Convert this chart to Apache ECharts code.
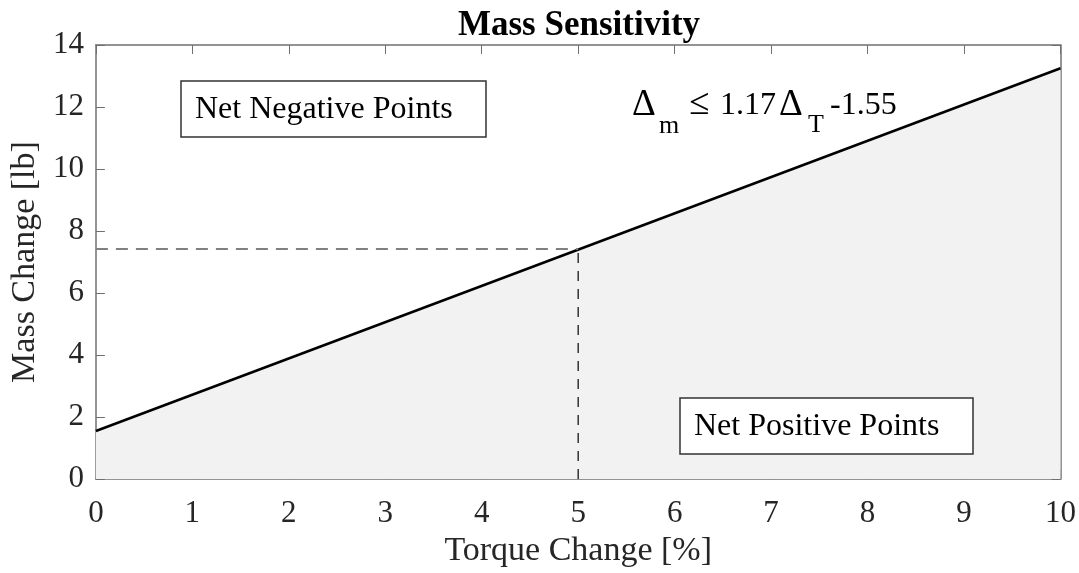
<!DOCTYPE html>
<html>
<head>
<meta charset="utf-8">
<script src="https://cdn.jsdelivr.net/npm/echarts@6/dist/echarts.min.js"></script>
<style>
  html, body { margin: 0; padding: 0; background: #fff; }
  #main { width: 1079px; height: 573px; }
</style>
</head>
<body>
<div id="main"></div>
<script>
        // data
        var lineX = [0, 10];
        var lineY = [1.55, 13.25];
        var torquePick = 5;
        var massPick = 7.42;
        var xTicks = [0, 1, 2, 3, 4, 5, 6, 7, 8, 9, 10];
        var yTicks = [0, 2, 4, 6, 8, 10, 12, 14];

        var font = '"Liberation Serif", "Times New Roman", serif';
        var axisGray = '#707070';
        var myChart = echarts.init(document.getElementById('main'));

        function boxAxis(extra) {
            var ax = {
                type: 'value',
                axisLine: { onZero: false, lineStyle: { color: axisGray, width: 1.5 } },
                axisTick: { inside: true, length: 9, lineStyle: { color: axisGray } },
                splitLine: { show: false }
            };
            for (var k in extra) ax[k] = extra[k];
            return ax;
        }

        function txt(x, y, s, size) {
            return { type: 'text', x: x, y: y, z: 100,
                style: { text: s, fontFamily: font, fontSize: size, fill: '#000' } };
        }

        function labelBox(x, y, w, h, s) {
            return [{
                type: 'rect', z: 100, shape: { x: x, y: y, width: w, height: h },
                style: { fill: '#fff', stroke: '#333', lineWidth: 1.5 }
            }, {
                type: 'text', z: 101, x: x + 14, y: y + h / 2 + 1,
                style: { text: s, fontFamily: font, fontSize: 32, fill: '#000', verticalAlign: 'middle' }
            }];
        }

        var option = {
            animation: false,
            backgroundColor: '#fff',
            title: {
                text: 'Mass Sensitivity',
                left: 574,
                textAlign: 'center',
                top: 3,
                textStyle: { fontFamily: font, fontWeight: 'bold', fontSize: 35, color: '#000' }
            },
            grid: { left: 95, right: 18, top: 45, bottom: 92 },
            xAxis: [boxAxis({
                min: xTicks[0], max: xTicks[xTicks.length - 1], interval: 1,
                name: 'Torque Change [%]', nameLocation: 'middle', nameGap: 45,
                nameTextStyle: { fontFamily: font, fontSize: 34, color: '#262626' },
                axisLabel: { fontFamily: font, fontSize: 31, color: '#262626', margin: 19 }
            }), boxAxis({
                position: 'top', min: 0, max: 10, interval: 1,
                axisLabel: { show: false }
            })],
            yAxis: [boxAxis({
                min: yTicks[0], max: yTicks[yTicks.length - 1], interval: 2,
                name: 'Mass Change [lb]', nameLocation: 'middle', nameGap: 43,
                nameTextStyle: { fontFamily: font, fontSize: 34, color: '#262626' },
                axisLabel: { fontFamily: font, fontSize: 31, color: '#262626', margin: 12 }
            }), boxAxis({
                position: 'right', min: 0, max: 14, interval: 2,
                axisLabel: { show: false }
            })],
            series: [{
                type: 'line',
                data: lineX.map(function (x, i) { return [x, lineY[i]]; }),
                symbol: 'none',
                lineStyle: { color: '#000', width: 2.5 },
                areaStyle: { color: '#f2f2f2', opacity: 1 },
                z: 1
            }, {
                type: 'line',
                data: [[0, massPick], [torquePick, massPick]],
                symbol: 'none',
                lineStyle: { color: '#808080', width: 2, type: [12, 8] },
                z: 2
            }, {
                type: 'line',
                data: [[torquePick, 0], [torquePick, massPick]],
                symbol: 'none',
                lineStyle: { color: '#333', width: 1.5, type: [10, 8] },
                z: 2
            }],
            graphic: [].concat(
                labelBox(181, 81, 305, 56, 'Net Negative Points'),
                labelBox(680, 398, 293, 56, 'Net Positive Points'),
                [
                    txt(632, 87, '\u0394', 37),
                    txt(659, 113, 'm', 26),
                    txt(689, 86, '\u2264', 37),
                    txt(720, 90, '1.17', 32),
                    txt(779, 87, '\u0394', 37),
                    txt(808, 112, 'T', 26),
                    txt(830, 90, '-1.55', 32)
                ]
            )
        };
        myChart.setOption(option);
</script>
</body>
</html>
